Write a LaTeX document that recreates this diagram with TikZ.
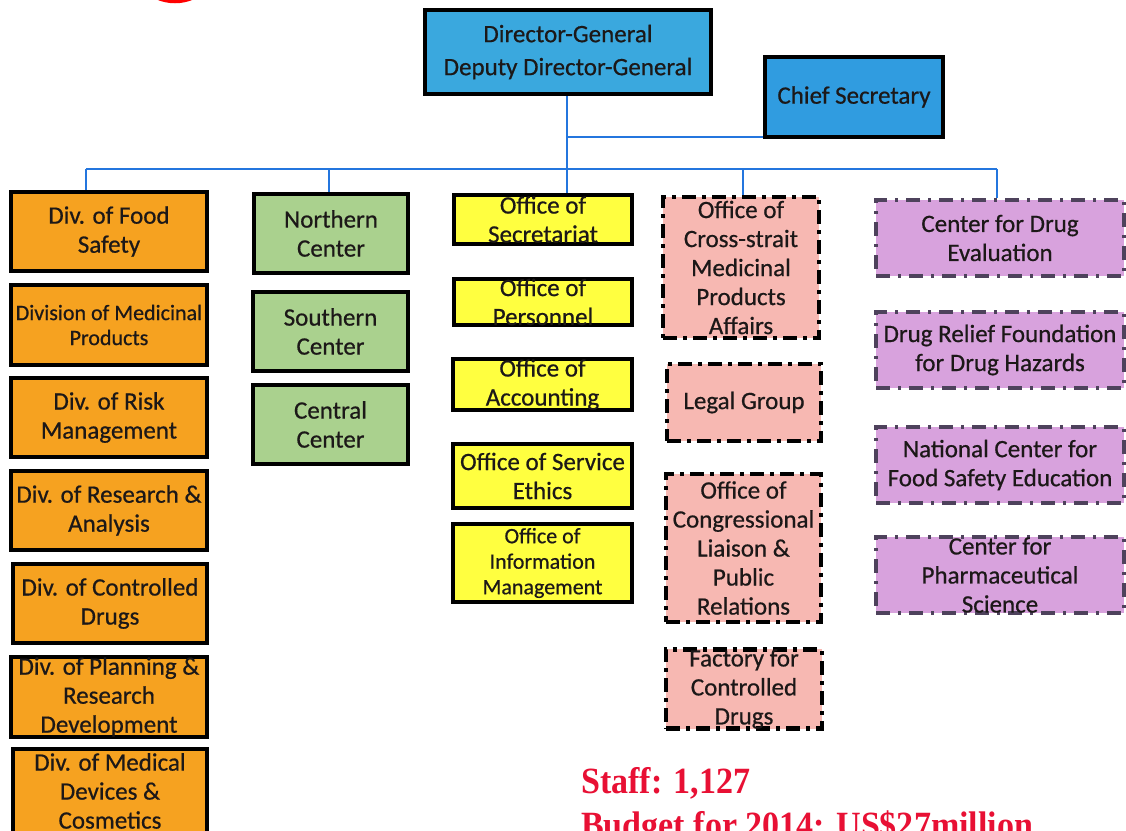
\documentclass[tikz,border=0pt]{standalone}
\usepackage{fontspec}
\setmainfont{Carlito}[FakeBold=0.6]
\newfontfamily\timesfont{Liberation Serif}
\usetikzlibrary{calc}
\definecolor{dgblue}{RGB}{58,168,222}
\definecolor{csblue}{RGB}{48,156,224}
\definecolor{orangefill}{RGB}{246,162,32}
\definecolor{greenfill}{RGB}{170,209,142}
\definecolor{yellowfill}{RGB}{255,255,64}
\definecolor{pinkfill}{RGB}{247,184,178}
\definecolor{purplefill}{RGB}{216,162,221}
\definecolor{purpleline}{RGB}{78,66,92}
\definecolor{linkblue}{RGB}{36,118,222}
\definecolor{textdark}{RGB}{28,24,24}
\definecolor{redtext}{RGB}{232,16,52}
\begin{document}
\begin{tikzpicture}[x=1pt,y=-1pt,
  box/.style={draw=black, line width=4pt, inner sep=0pt, align=center,
    text=textdark, font=\fontsize{25}{29}\selectfont},
  bluebox/.style={box, fill=dgblue},
  orangebox/.style={box, fill=orangefill},
  greenbox/.style={box, fill=greenfill},
  yellowbox/.style={box, fill=yellowfill},
  pinkbox/.style={box, fill=pinkfill, line width=4.5pt,
    dash pattern=on 14pt off 6pt on 4pt off 6pt},
  purplebox/.style={box, fill=purplefill, draw=purpleline, line width=3.5pt,
    dash pattern=on 14pt off 8pt on 3pt off 8pt},
  link/.style={draw=linkblue, line width=2pt},
  redinfo/.style={anchor=base west, inner sep=0pt, text=redtext,
    font=\timesfont\bfseries\fontsize{37}{44}\selectfont}
]
\useasboundingbox[fill=white] (0,0) rectangle (1126,830);

% partial red ring at the top-left
\draw[red, line width=3.5pt] (175,-44) circle[radius=45.5];

% top level
\node[bluebox, minimum width=286pt, minimum height=84pt,
  font=\fontsize{25}{33}\selectfont] (dg) at (568,52)
  {Director-General\\Deputy Director-General};
\node[bluebox, fill=csblue, minimum width=178pt, minimum height=80pt] (cs) at (854,97)
  {Chief Secretary};

% orange column
\node[orangebox, minimum width=196pt, minimum height=79pt] (fs) at (109,231.5)
  {Div. of Food\\Safety};
\node[orangebox, minimum width=196pt, minimum height=80pt,
  font=\fontsize{22}{25}\selectfont] (mp) at (109,325)
  {Division of Medicinal\\Products};
\node[orangebox, minimum width=196pt, minimum height=79pt] (rm) at (109,417.5)
  {Div. of Risk\\Management};
\node[orangebox, minimum width=196pt, minimum height=79pt] (ra) at (109,510.5)
  {Div. of Research \&\\Analysis};
\node[orangebox, minimum width=194pt, minimum height=79pt] (cd) at (110,603.5)
  {Div. of Controlled\\Drugs};
\node[orangebox, minimum width=196pt, minimum height=80pt] (pr) at (109,697)
  {Div. of Planning \&\\Research\\Development};
\node[orangebox, minimum width=194pt, minimum height=84pt] (md) at (110,791)
  {Div. of Medical\\Devices \&\\Cosmetics};

% green column
\node[greenbox, minimum width=154pt, minimum height=79pt] (nc) at (331,233.5)
  {Northern\\Center};
\node[greenbox, minimum width=155pt, minimum height=79pt] (sc) at (330.5,331.5)
  {Southern\\Center};
\node[greenbox, minimum width=155pt, minimum height=79pt] (cc) at (330.5,424.5)
  {Central\\Center};

% yellow column
\node[yellowbox, minimum width=178pt, minimum height=49pt] (sec) at (543,219.5)
  {Office of\\Secretariat};
\node[yellowbox, minimum width=178pt, minimum height=46pt] (per) at (543,302)
  {Office of\\Personnel};
\node[yellowbox, minimum width=179pt, minimum height=49pt] (acc) at (542.5,384.5)
  {Office of\\Accounting};
\node[yellowbox, minimum width=179pt, minimum height=64pt] (eth) at (542.5,476)
  {Office of Service\\Ethics};
\node[yellowbox, minimum width=179pt, minimum height=78pt,
  font=\fontsize{22}{25.5}\selectfont] (inf) at (542.5,563)
  {Office of\\Information\\Management};

% pink column
\node[pinkbox, minimum width=156pt, minimum height=141pt] (csm) at (741,267.5)
  {Office of\\Cross-strait\\Medicinal\\Products\\Affairs};
\node[pinkbox, minimum width=154pt, minimum height=77pt] (lg) at (744,402.5)
  {Legal Group};
\node[pinkbox, minimum width=155pt, minimum height=148pt] (ocl) at (743.5,548)
  {Office of\\Congressional\\Liaison \&\\Public\\Relations};
\node[pinkbox, minimum width=156pt, minimum height=78pt] (fcd) at (744,689)
  {Factory for\\Controlled\\Drugs};

% purple column
\node[purplebox, minimum width=248pt, minimum height=76pt] (cde) at (1000,238)
  {Center for Drug\\Evaluation};
\node[purplebox, minimum width=248pt, minimum height=76pt] (drf) at (1000,350)
  {Drug Relief Foundation\\for Drug Hazards};
\node[purplebox, minimum width=248pt, minimum height=76pt] (ncf) at (1000,465)
  {National Center for\\Food Safety Education};
\node[purplebox, minimum width=248pt, minimum height=76pt] (cps) at (1000,575)
  {Center for\\Pharmaceutical\\Science};

% connectors
\coordinate (jcs) at (567,137);
\coordinate (b1) at (86,169);
\coordinate (b2) at (329,169);
\coordinate (b3) at (567,169);
\coordinate (b4) at (743,169);
\coordinate (b5) at (997,169);
\draw[link] (jcs |- dg.south) -- (jcs |- sec.north);
\draw[link] (jcs) -- (jcs -| cs.west);
\draw[link] (b1) -- (b5);
\draw[link] (b1) -- (b1 |- fs.north);
\draw[link] (b2) -- (b2 |- nc.north);
\draw[link] (b4) -- (b4 |- csm.north);
\draw[link] (b5) -- (b5 |- cde.north);

% staff and budget
\node[redinfo] (staff) at (581,793) {\scalebox{0.92}[1]{Staff: 1,127}};
\node[redinfo] (budget) at (581,837) {\scalebox{0.92}[1]{Budget for 2014: US\$27million}};
\end{tikzpicture}
\end{document}
